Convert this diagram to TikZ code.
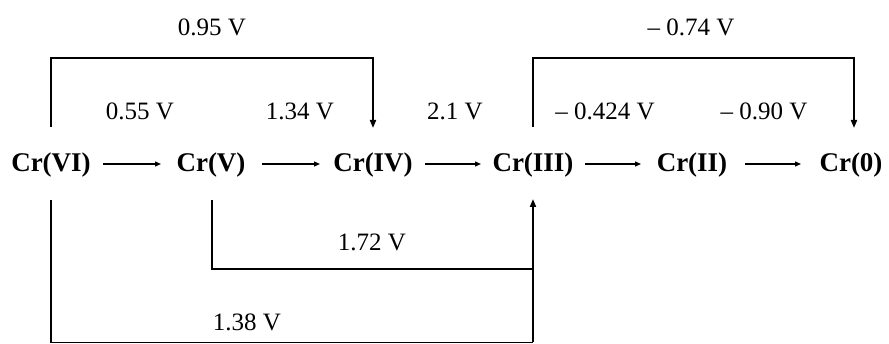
\documentclass[tikz,border=0pt]{standalone}
\usepackage{fontspec}
\setmainfont{Liberation Serif}
\usetikzlibrary{arrows.meta}
\begin{document}
\begin{tikzpicture}[x=1pt,y=-1pt,
  species/.style={font=\fontsize{27}{30}\selectfont\bfseries, inner sep=0pt, anchor=center},
  pot/.style={font=\fontsize{25}{28}\selectfont, inner sep=0pt, anchor=center},
  step arrow/.style={line width=1.3pt, -{Triangle[length=6pt,width=5pt]}},
  bracket/.style={line width=1.8pt, line join=miter},
  bracket arrow/.style={bracket, -{Triangle[length=8pt,width=6pt]}}]
\useasboundingbox (0,0) rectangle (889,344);

% oxidation states
\node[species] (cr6) at (51,165) {Cr(VI)};
\node[species] (cr5) at (211,165) {Cr(V)};
\node[species] (cr4) at (373,165) {Cr(IV)};
\node[species] (cr3) at (533,165) {Cr(III)};
\node[species] (cr2) at (692,165) {Cr(II)};
\node[species] (cr0) at (851,165) {Cr(0)};

% single-step reductions
\coordinate (s1) at (103,164); \coordinate (e1) at (161,164);
\coordinate (s2) at (262,164); \coordinate (e2) at (320,164);
\coordinate (s3) at (425,164); \coordinate (e3) at (481,164);
\coordinate (s4) at (585,164); \coordinate (e4) at (641,164);
\coordinate (s5) at (745,164); \coordinate (e5) at (801,164);
\foreach \i in {1,...,5} \draw[step arrow] (s\i) -- (e\i);

\node[pot] (p1) at (140,111) {0.55 V};
\node[pot] (p2) at (300,111) {1.34 V};
\node[pot] (p3) at (455,111) {2.1 V};
\node[pot] (p4) at (605,111) {– 0.424 V};
\node[pot] (p5) at (764,111) {– 0.90 V};

% multi-step couples above the chain
\coordinate (t6) at (51,127);
\coordinate (t4) at (373,128);
\draw[bracket arrow] (t6) |- (212,58) -| (t4);
\node[pot] (p6) at (212,27) {0.95 V};

\coordinate (t3) at (533,127);
\coordinate (t0) at (854,128);
\draw[bracket arrow] (t3) |- (690,58) -| (t0);
\node[pot] (p7) at (691,27) {– 0.74 V};

% multi-step couples below the chain
\coordinate (u5) at (212,200);
\coordinate (u3) at (533,199);
\draw[bracket] (u5) |- (533,269);
\node[pot] (p8) at (372,242) {1.72 V};

\coordinate (u6) at (51,200);
\draw[bracket] (u6) |- (533,342.5);
\draw[bracket arrow] (533,342.5) -- (u3);
\node[pot] (p9) at (247,322) {1.38 V};
\end{tikzpicture}
\end{document}
